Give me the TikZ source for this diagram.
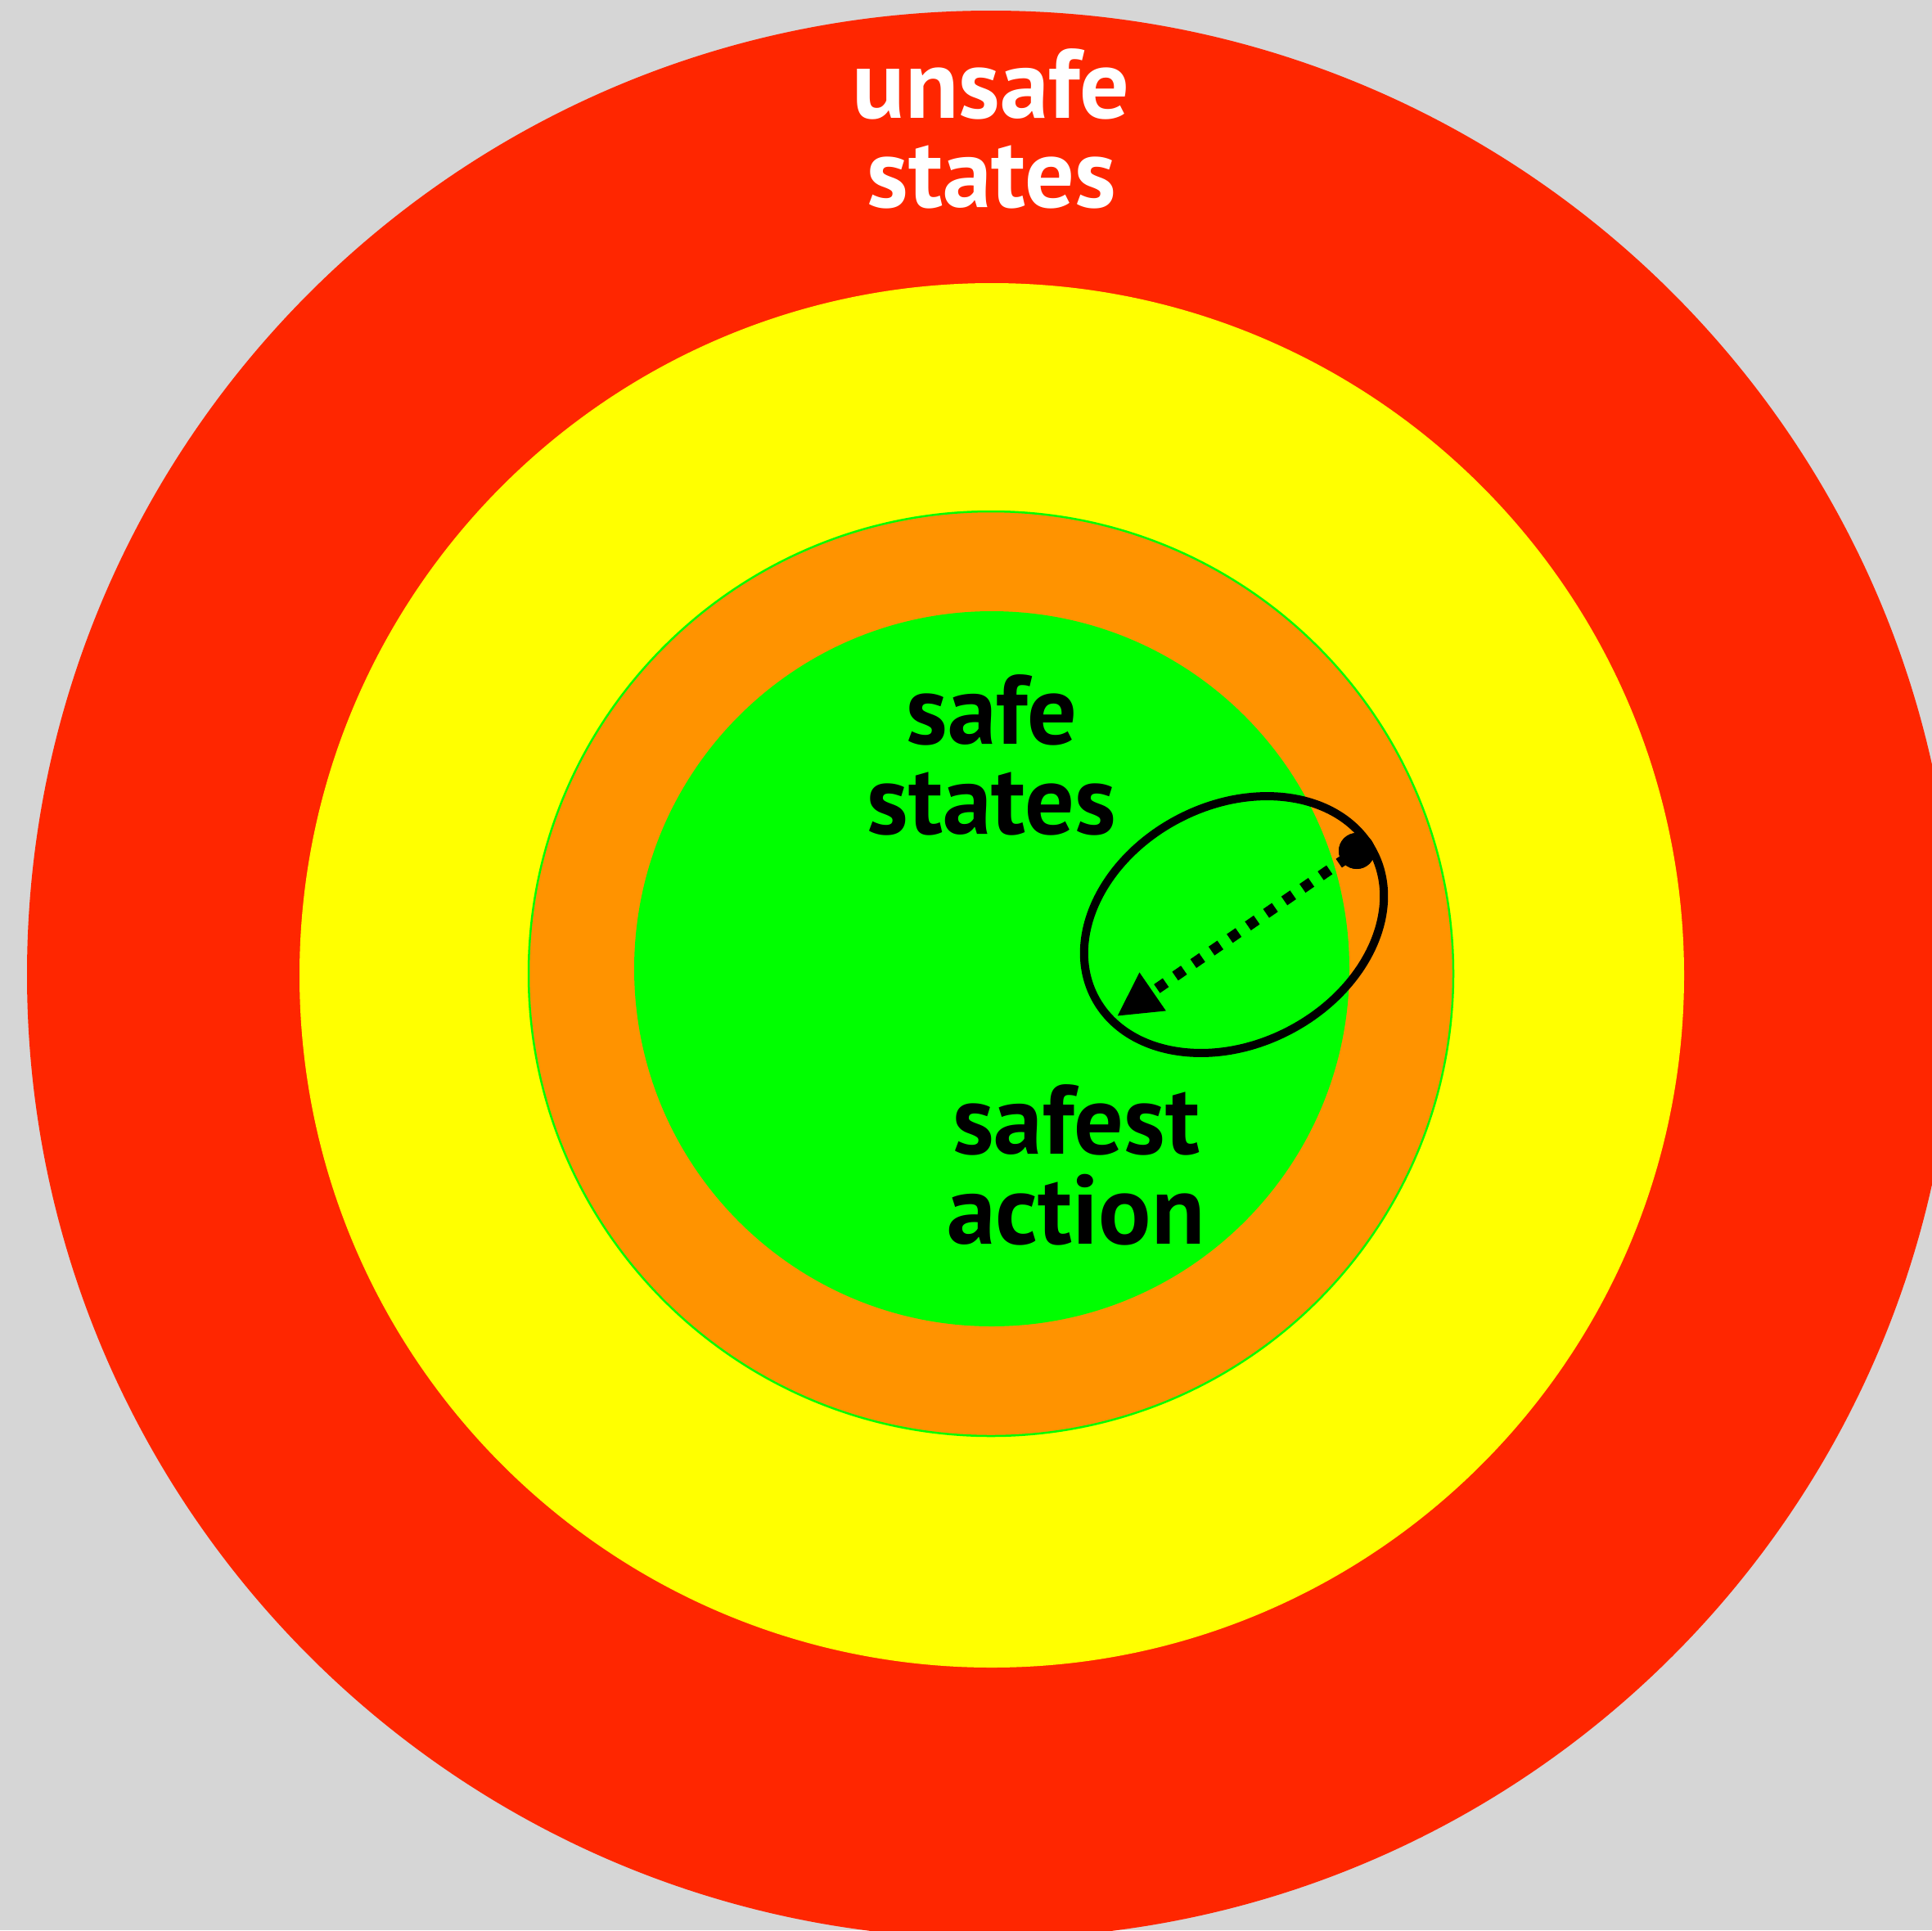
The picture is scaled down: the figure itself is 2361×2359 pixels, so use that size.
\documentclass[tikz,border=0pt]{standalone}
\usepackage{fontspec}
\setmainfont{PT Sans}
\usetikzlibrary{shapes.geometric,arrows.meta}
\definecolor{bg}{HTML}{D6D6D6}
\definecolor{cred}{HTML}{FF2600}
\definecolor{cyellow}{HTML}{FFFF00}
\definecolor{corange}{HTML}{FF9300}
\definecolor{cgreen}{HTML}{00FF00}
\begin{document}
\begin{tikzpicture}[x=1pt,y=-1pt,
  lbl/.style={font=\bfseries\fontsize{120}{130}\selectfont, anchor=base, inner sep=0pt},
  ring/.style={draw=none},
  actionring/.style={draw, line width=10pt, ellipse, minimum width=384pt, minimum height=292pt, inner sep=0pt},
  startdot/.style={circle, fill=black, minimum size=44pt, inner sep=0pt},
  moveline/.style={line width=13pt, dash pattern=on 13pt off 14pt, dash phase=13.5pt, line cap=butt}
]
\useasboundingbox (0,0) rectangle (2361,2359);
\clip (0,0) rectangle (2361,2359);
\fill[bg] (0,0) rectangle (2361,2359);
\fill[cred] (1211,1191) circle[radius=1178];
\fill[cyellow] (1212,1192) circle[radius=846];
\filldraw[fill=corange, draw=cgreen, line width=2.5pt] (1211,1190) circle[radius=565];
\fill[cgreen] (1212,1184) circle[radius=437];

\node[lbl, text=white] (u1) at (1211,144) {unsafe};
\node[lbl, text=white] (u2) at (1212,253) {states};
\node[lbl] (s1) at (1212,909) {safe};
\node[lbl] (s2) at (1212,1019) {states};
\node[lbl] (a1) at (1315,1410) {safest};
\node[lbl] (a2) at (1315,1520) {action};

\node[actionring, rotate=27.5] (ring) at (1508,1130) {};
\coordinate (tip) at (1365,1242);
\node[startdot] (start) at (1658,1040) {};
\draw[moveline, -{Triangle[length=53pt,width=53pt]}] (start.center) -- (tip);
\node[startdot] at (start.center) {};
\end{tikzpicture}
\end{document}
